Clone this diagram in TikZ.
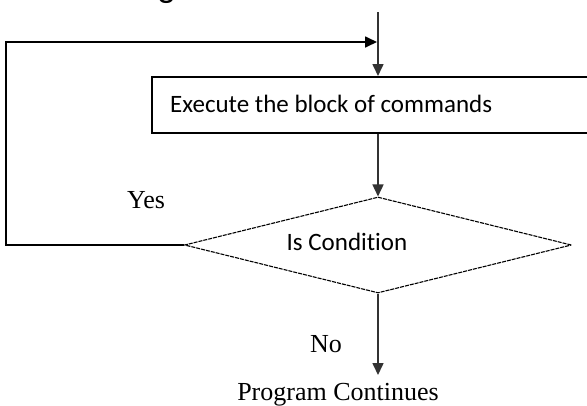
\documentclass[tikz,border=0pt]{standalone}
\usepackage{fontspec}
\setmainfont{Liberation Serif}
\newfontfamily\labelsans[Ligatures=NoCommon]{Carlito}
\newfontfamily\headsans{Liberation Sans}
\usetikzlibrary{arrows.meta,shapes.geometric}

\begin{document}
\begin{tikzpicture}[x=1pt,y=-1pt,
  arrowed/.style={-{Triangle[length=12pt,width=11pt]}},
  mainline/.style={line width=1.6pt, draw=black!80},
  feedline/.style={line width=1.7pt, draw=black},
  boxshape/.style={draw=black, line width=1.7pt, rectangle, minimum width=460pt,
    minimum height=56pt, inner sep=0pt, anchor=north west},
  decision/.style={draw=black, line width=1.1pt, dash pattern=on 4pt off 1pt,
    diamond, aspect=4.03, minimum width=387pt, minimum height=96pt, inner sep=0pt},
  sanstext/.style={font=\labelsans\fontsize{25}{30}\selectfont, inner sep=0pt},
  seriftext/.style={font=\fontsize{26}{31}\selectfont, inner sep=0pt},
]
\useasboundingbox (0,0) rectangle (587,405);
\clip (0,0) rectangle (587,405);

% heading above the chart (only its descender reaches into view)
\node[font=\headsans\fontsize{34}{40}\selectfont, inner sep=0pt, anchor=base west]
  (heading) at (157,-3.5) {g};

% process block and decision
\node[boxshape] (box) at (151,76) {};
\node[sanstext, anchor=base west] (boxlabel) at (170,112) {Execute the block of commands};
\node[decision] (cond) at (378,245) {};
\node[sanstext, anchor=base] (condlabel) at (347,250) {Is Condition};

% loose ends of the connectors
\coordinate (entry) at (378,12);
\coordinate (corner) at (6,42);
\coordinate (merge) at (377,42);
\coordinate (exit) at (378,375);

% connectors
\draw[mainline,arrowed] (entry) -- (entry |- box.north);
\draw[mainline,arrowed] (box.south -| entry) -- (cond.north);
\draw[feedline,arrowed] (cond.west) -| (corner) -- (merge);
\draw[mainline,arrowed] (cond.south) -- (exit);

% branch labels
\node[seriftext, anchor=base] (yes) at (146,208) {Yes};
\node[seriftext, anchor=base] (no) at (326,352) {No};
\node[seriftext, anchor=base] (continues) at (338,400) {Program Continues};
\end{tikzpicture}
\end{document}
